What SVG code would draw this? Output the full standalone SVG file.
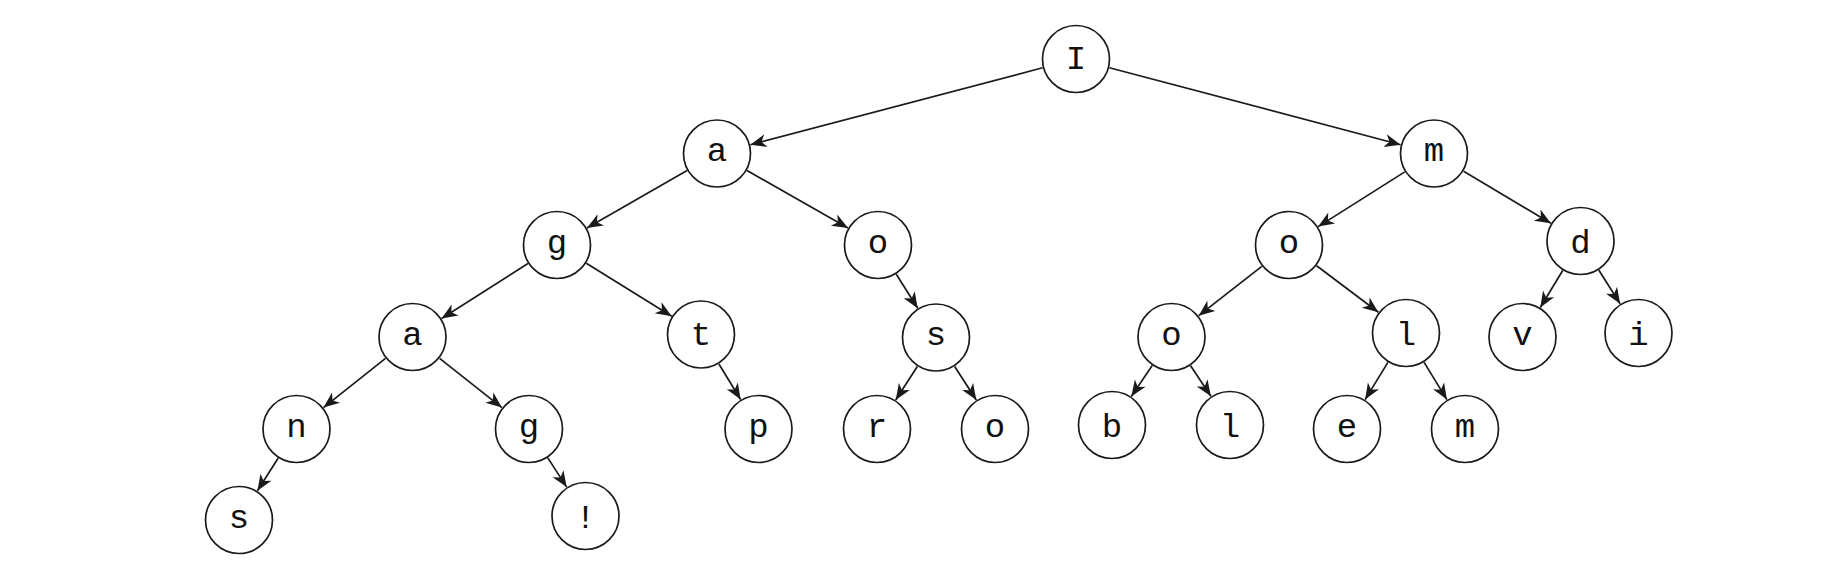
<svg xmlns="http://www.w3.org/2000/svg" width="1837" height="580" viewBox="0 0 1837 580">
<style>
.n circle{fill:#fff;stroke:#1a1a1a;stroke-width:1.7}
.n text{font-family:"Liberation Mono",monospace;font-size:34px;fill:#111;text-anchor:middle}
#edges line{stroke:#1a1a1a;stroke-width:1.7;marker-end:url(#arr)}
</style>
<defs>
<marker id="arr" viewBox="-17 -8 18 16" refX="0" refY="0" markerWidth="18" markerHeight="16" orient="auto" markerUnits="userSpaceOnUse">
<path d="M0,0 L-16,-6.5 L-11.5,0 L-16,6.5 Z" fill="#1a1a1a"/>
</marker>
</defs>
<rect width="1837" height="580" fill="#fff"/>
<g id="edges">
<line x1="1042.6" y1="67.8" x2="750.4" y2="144.7"/>
<line x1="1109.4" y1="67.8" x2="1400.6" y2="144.7"/>
<line x1="687.1" y1="170.6" x2="586.9" y2="227.9"/>
<line x1="747.0" y1="170.5" x2="848.0" y2="228.0"/>
<line x1="1404.8" y1="171.9" x2="1318.2" y2="226.6"/>
<line x1="1463.6" y1="171.2" x2="1550.9" y2="223.3"/>
<line x1="527.9" y1="263.5" x2="441.6" y2="318.5"/>
<line x1="586.3" y1="263.2" x2="671.7" y2="316.3"/>
<line x1="896.3" y1="274.2" x2="917.7" y2="308.3"/>
<line x1="1261.8" y1="266.3" x2="1198.7" y2="315.7"/>
<line x1="1316.6" y1="265.7" x2="1378.4" y2="312.3"/>
<line x1="1562.7" y1="270.5" x2="1540.3" y2="307.5"/>
<line x1="1598.9" y1="270.2" x2="1620.1" y2="303.8"/>
<line x1="385.5" y1="358.4" x2="323.5" y2="407.6"/>
<line x1="439.6" y1="358.4" x2="501.9" y2="407.6"/>
<line x1="718.9" y1="364.0" x2="740.6" y2="399.5"/>
<line x1="917.3" y1="366.5" x2="895.7" y2="400.0"/>
<line x1="954.7" y1="366.5" x2="976.3" y2="400.0"/>
<line x1="1152.2" y1="365.6" x2="1131.3" y2="396.4"/>
<line x1="1190.6" y1="365.7" x2="1210.9" y2="396.3"/>
<line x1="1387.9" y1="362.4" x2="1365.1" y2="399.6"/>
<line x1="1424.1" y1="362.4" x2="1446.9" y2="399.6"/>
<line x1="278.1" y1="458.2" x2="257.4" y2="490.8"/>
<line x1="547.8" y1="457.9" x2="566.7" y2="487.1"/>
</g>
<g id="n-I" class="n"><circle cx="1076" cy="59" r="33.5"/><text x="1076" y="69">I</text></g>
<g id="n-a1" class="n"><circle cx="717" cy="153.5" r="33.5"/><text x="717" y="161">a</text></g>
<g id="n-m1" class="n"><circle cx="1434" cy="153.5" r="33.5"/><text x="1434" y="161">m</text></g>
<g id="n-g2" class="n"><circle cx="557" cy="245" r="33.5"/><text x="557" y="252.5">g</text></g>
<g id="n-o2a" class="n"><circle cx="878" cy="245" r="33.5"/><text x="878" y="252.5">o</text></g>
<g id="n-o2b" class="n"><circle cx="1289" cy="245" r="33.5"/><text x="1289" y="252.5">o</text></g>
<g id="n-d2" class="n"><circle cx="1580.5" cy="241" r="33.5"/><text x="1580.5" y="252.5">d</text></g>
<g id="n-a3" class="n"><circle cx="412.5" cy="337" r="33.5"/><text x="412.5" y="344.5">a</text></g>
<g id="n-t3" class="n"><circle cx="701" cy="334.5" r="33.5"/><text x="701" y="344.5">t</text></g>
<g id="n-s3" class="n"><circle cx="936" cy="337.5" r="33.5"/><text x="936" y="344.5">s</text></g>
<g id="n-o3" class="n"><circle cx="1171.5" cy="337" r="33.5"/><text x="1171.5" y="344.5">o</text></g>
<g id="n-l3" class="n"><circle cx="1406" cy="333" r="33.5"/><text x="1406" y="344.5">l</text></g>
<g id="n-v3" class="n"><circle cx="1522.5" cy="337" r="33.5"/><text x="1522.5" y="344.5">v</text></g>
<g id="n-i3" class="n"><circle cx="1638.5" cy="333" r="33.5"/><text x="1638.5" y="344.5">i</text></g>
<g id="n-n4" class="n"><circle cx="296.5" cy="429" r="33.5"/><text x="296.5" y="436.5">n</text></g>
<g id="n-g4" class="n"><circle cx="529" cy="429" r="33.5"/><text x="529" y="436.5">g</text></g>
<g id="n-p4" class="n"><circle cx="758.5" cy="429" r="33.5"/><text x="758.5" y="436.5">p</text></g>
<g id="n-r4" class="n"><circle cx="877" cy="429" r="33.5"/><text x="877" y="436.5">r</text></g>
<g id="n-o4" class="n"><circle cx="995" cy="429" r="33.5"/><text x="995" y="436.5">o</text></g>
<g id="n-b4" class="n"><circle cx="1112" cy="425" r="33.5"/><text x="1112" y="436.5">b</text></g>
<g id="n-l4" class="n"><circle cx="1230" cy="425" r="33.5"/><text x="1230" y="436.5">l</text></g>
<g id="n-e4" class="n"><circle cx="1347" cy="429" r="33.5"/><text x="1347" y="436.5">e</text></g>
<g id="n-m4" class="n"><circle cx="1465" cy="429" r="33.5"/><text x="1465" y="436.5">m</text></g>
<g id="n-s5" class="n"><circle cx="239" cy="520" r="33.5"/><text x="239" y="527.5">s</text></g>
<g id="n-ex5" class="n"><circle cx="585.5" cy="516" r="33.5"/><text x="585.5" y="527.5">!</text></g>
</svg>
